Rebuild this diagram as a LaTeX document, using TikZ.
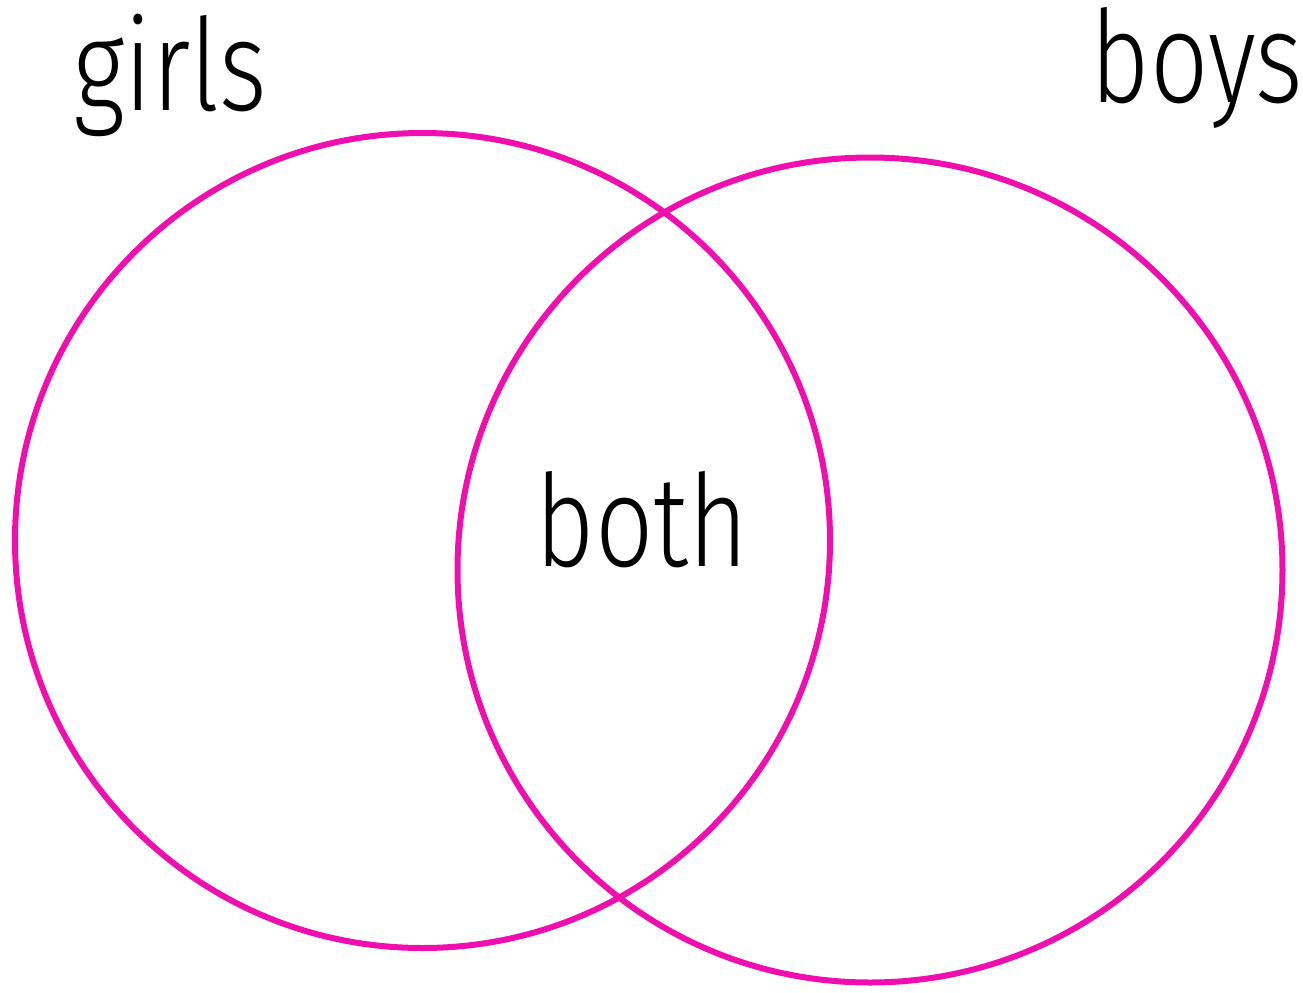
\documentclass[tikz,border=0pt]{standalone}
\usepackage{fontspec}
\setmainfont{Fira Sans Light}[FakeStretch=0.8]
\usepackage{tikz}
\usetikzlibrary{positioning}
\definecolor{Ring}{HTML}{F00FAE}

\begin{document}
\begin{tikzpicture}[
  x=0.5pt,y=-0.5pt,
  ring/.style={circle,draw=Ring,line width=3pt,inner sep=0pt},
  word/.style={anchor=base,font=\fontsize{64}{64}\selectfont,inner sep=0pt}
]
\useasboundingbox (0,0) rectangle (1303,992);
\node[ring,minimum size=407.5pt] (girlset) at (422.5,540.5) {};
\node[ring,minimum size=412.5pt] (boyset) at (870,570) {};
\node[word] (girls) at (170,110) {girls};
\node[word] (boys) at (1197,102) {boys};
\node[word] (both) at (642,566) {both};
\end{tikzpicture}
\end{document}
